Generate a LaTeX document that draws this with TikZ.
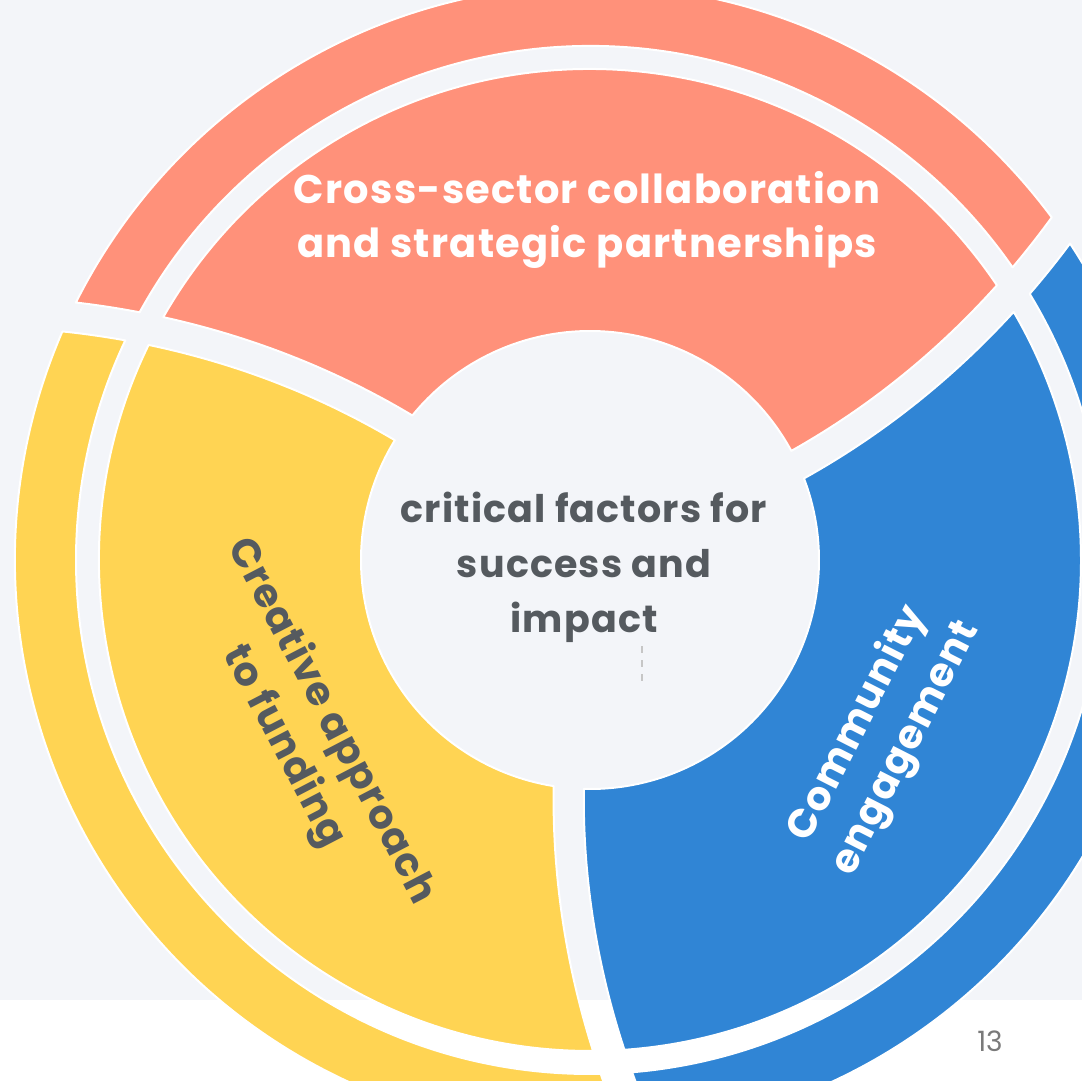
\documentclass[tikz,border=0pt]{standalone}
\usepackage{fontspec}
\setmainfont{Poppins}
\definecolor{bgc}{HTML}{F3F5F9}
\definecolor{salmon}{HTML}{FF917A}
\definecolor{sun}{HTML}{FFD453}
\definecolor{sky}{HTML}{3085D5}
\definecolor{ink}{HTML}{555A5F}
\definecolor{pagegray}{HTML}{7A7A7A}
\newcommand\ringseg[4]{%
  \begin{scope}[rotate=#1]
    \path[fill=#2, draw=white, line width=2, line join=round]
      plot[domain=#3:#4, samples=30, variable=\r] ({Sg(\r)-120}:\r)
      arc[start angle={Sg(#4)-120}, end angle={Eg(#4)}, radius=#4]
      -- plot[domain=#4:#3, samples=30, variable=\r] ({Eg(\r)}:\r)
      arc[start angle={Eg(#3)}, end angle={Sg(#3)-120}, radius=#3]
      -- cycle;
  \end{scope}}
\begin{document}
\begin{tikzpicture}[x=1pt, y=1pt,
  declare function={Eg(\r)=20.87+0.03621*(\r-229);
                    Sg(\r)=Eg(\r)+1718.87*sqrt(1+(0.000632*\r)^2)/\r;},
  bigtext/.style={font=\bfseries\fontsize{40}{54}\selectfont\addfontfeature{LetterSpace=3}, align=center},
  midtext/.style={font=\bfseries\fontsize{38}{55}\selectfont\addfontfeature{LetterSpace=3}, align=center}]
\useasboundingbox (-590,-520) rectangle (492,560);
\fill[bgc] (-590,-440) rectangle (492,560);
\fill[white] (-590,-520) rectangle (492,-440);
% inner ring
\ringseg{0}{sky}{229}{491}
\ringseg{120}{salmon}{229}{491}
\ringseg{240}{sun}{229}{491}
% outer ring
\ringseg{0}{sky}{514}{575}
\ringseg{120}{salmon}{514}{575}
\ringseg{240}{sun}{514}{575}
% texts
\node[bigtext, text=white] (top) at (-3,340) {Cross-sector collaboration\\and strategic partnerships};
\node[midtext, text=ink] (centre) at (-6,-7) {critical factors for\\success and\\impact};
\coordinate (d1) at (51.7,-86);
\coordinate (d2) at (51.7,-121);
\draw[gray!45, line width=2, dash pattern=on 7 off 7] (d1) -- (d2);
\node[bigtext, text=ink, rotate=-62.5] (creative) at (-283,-174) {Creative approach\\to funding};
\node[bigtext, text=white, rotate=63] (community) at (292,-176) {Community\\engagement};
\node[text=pagegray, font=\fontsize{28}{30}\selectfont] (page) at (400,-481) {13};
\end{tikzpicture}
\end{document}
